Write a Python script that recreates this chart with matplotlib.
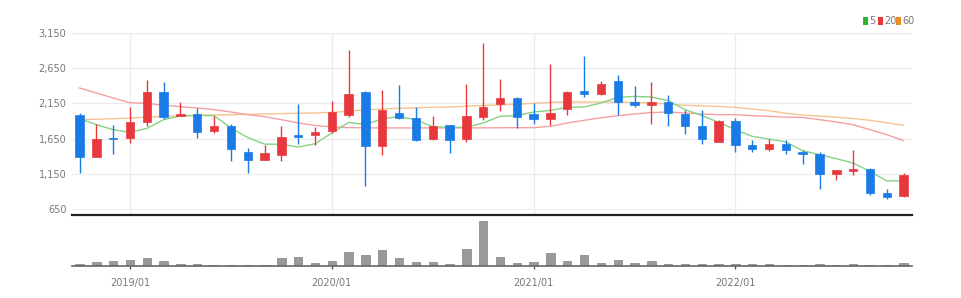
import matplotlib
matplotlib.use("Agg")
import matplotlib.pyplot as plt
from matplotlib.patches import Rectangle
from matplotlib.ticker import FuncFormatter

months = ["2018/10", "2018/11", "2018/12", "2019/01", "2019/02", "2019/03", "2019/04", "2019/05", "2019/06", "2019/07",
          "2019/08", "2019/09", "2019/10", "2019/11", "2019/12", "2020/01", "2020/02", "2020/03", "2020/04", "2020/05",
          "2020/06", "2020/07", "2020/08", "2020/09", "2020/10", "2020/11", "2020/12", "2021/01", "2021/02", "2021/03",
          "2021/04", "2021/05", "2021/06", "2021/07", "2021/08", "2021/09", "2021/10", "2021/11", "2021/12", "2022/01",
          "2022/02", "2022/03", "2022/04", "2022/05", "2022/06", "2022/07", "2022/08", "2022/09", "2022/10", "2022/11"]

opens = [1980, 1389, 1658, 1658, 1881, 2307, 1976, 2000, 1753, 1824,
         1460, 1346, 1422, 1696, 1696, 1753, 1990, 2312, 1540, 2009,
         1943, 1644, 1838, 1649, 1957, 2141, 2227, 2000, 1924, 2070,
         2331, 2283, 2463, 2170, 2132, 2170, 2000, 1824, 1602, 1905,
         1554, 1507, 1569, 1460, 1436, 1152, 1195, 1223, 877, 830]
closes = [1389, 1649, 1644, 1890, 2307, 1952, 2000, 1744, 1834, 1507,
          1346, 1441, 1668, 1677, 1744, 2028, 2283, 1550, 2061, 1943,
          1635, 1824, 1635, 1971, 2104, 2222, 1952, 1928, 2009, 2312,
          2283, 2426, 2165, 2132, 2170, 2009, 1834, 1644, 1905, 1554,
          1497, 1569, 1488, 1436, 1152, 1199, 1213, 877, 820, 1128]
highs = [2014, 1857, 1848, 2094, 2478, 2449, 2170, 2085, 1966, 1862,
         1517, 1554, 1824, 2141, 1810, 2179, 2909, 2331, 2336, 2407,
         2104, 1966, 1845, 2426, 3008, 2497, 2236, 2156, 2710, 2320,
         2828, 2463, 2558, 2392, 2449, 2265, 2061, 2061, 1919, 1943,
         1635, 1644, 1635, 1493, 1460, 1204, 1493, 1230, 934, 1161]
lows = [1161, 1389, 1431, 1587, 1834, 1933, 1966, 1658, 1730, 1327,
        1161, 1346, 1327, 1573, 1554, 1725, 1952, 977, 1412, 1933,
        1611, 1635, 1446, 1597, 1919, 2047, 1801, 1862, 1838, 1990,
        2241, 2274, 1980, 2094, 1862, 1824, 1720, 1578, 1597, 1460,
        1455, 1479, 1436, 1294, 934, 1067, 1128, 853, 797, 820]
volumes = [23, 37, 50, 63, 83, 53, 23, 23, 13, 13,
           13, 13, 77, 90, 27, 53, 137, 113, 163, 77,
           37, 43, 23, 173, 447, 95, 35, 37, 130, 53,
           107, 30, 57, 30, 53, 23, 17, 17, 17, 17,
           17, 17, 10, 10, 17, 10, 17, 10, 10, 30]
ma5 = [1933, 1848, 1777, 1739, 1795, 1919, 1971, 1980, 1976, 1800,
       1665, 1572, 1570, 1531, 1577, 1730, 1881, 1848, 1933, 1962,
       1919, 1817, 1810, 1810, 1872, 1966, 1976, 2028, 2050, 2094,
       2099, 2156, 2236, 2250, 2241, 2189, 2061, 1980, 1881, 1777,
       1682, 1644, 1602, 1479, 1422, 1365, 1303, 1185, 1050, 1050]
ma20 = [2369, 2298, 2227, 2160, 2151, 2123, 2104, 2085, 2061, 2028,
        1990, 1962, 1919, 1872, 1838, 1815, 1806, 1803, 1802, 1802,
        1802, 1802, 1802, 1802, 1803, 1804, 1805, 1806, 1825, 1872,
        1910, 1945, 1975, 2000, 2020, 2028, 2014, 2000, 1990, 1990,
        1976, 1966, 1955, 1950, 1919, 1886, 1848, 1777, 1706, 1621]
ma60 = [1919, 1925, 1933, 1943, 1955, 1965, 1975, 1980, 1985, 1990,
        1995, 2000, 2005, 2010, 2014, 2023, 2040, 2058, 2071, 2080,
        2088, 2095, 2099, 2110, 2120, 2130, 2140, 2150, 2165, 2170,
        2170, 2170, 2170, 2165, 2156, 2141, 2123, 2115, 2108, 2094,
        2070, 2047, 2009, 1985, 1970, 1955, 1935, 1910, 1875, 1838]
price_ticks = [650, 1150, 1650, 2150, 2650, 3150]
year_ticks = ["2019/01", "2020/01", "2021/01", "2022/01"]
legend_labels = ["5", "20", "60"]

UP = "#e8383d"
DOWN = "#1a7ae6"
MA_COLORS = ["#86d283", "#f5a0a0", "#f7c28e"]
LEG_COLORS = ["#2bb52b", "#e83535", "#f08a2a"]
TXT = "#777777"
FONT = ["Liberation Sans Narrow", "DejaVu Sans"]
plt.rcParams["font.family"] = FONT

W, H = 961, 298
fig = plt.figure(figsize=(W / 100, H / 100), dpi=100)
fig.patch.set_facecolor("white")

left = 72 / W
width = (912 - 72) / W
ax = fig.add_axes([left, 1 - 215 / H, width, (215 - 33) / H])
axv = fig.add_axes([left, 1 - 266 / H, width, (266 - 215) / H])

x = list(range(len(months)))
xt = [months.index(m) for m in year_ticks]

# grid
for p in price_ticks:
    ax.axhline(p, color="#ececec", lw=0.9, zorder=0)
for t in xt:
    ax.axvline(t, color="#ececec", lw=0.9, zorder=0)

# moving averages
for s, c in zip([ma60, ma20, ma5], [MA_COLORS[2], MA_COLORS[1], MA_COLORS[0]]):
    ax.plot(x, s, color=c, lw=1.0, zorder=2)

bw = 0.5
for i in x:
    o, c, h, l = opens[i], closes[i], highs[i], lows[i]
    col = UP if c >= o else DOWN
    ax.vlines(i, l, h, color=col, lw=1.0, zorder=3)
    b = min(o, c)
    hh = max(abs(c - o), 12)
    ax.add_patch(Rectangle((i - bw / 2, b), bw, hh, facecolor=col, edgecolor=col, lw=0.5, zorder=4))

ax.set_xlim(-0.45, 49.5)
ax.set_ylim(565, 3150)
ax.set_yticks(price_ticks)
ax.yaxis.set_major_formatter(FuncFormatter(lambda v, p: f"{int(v):,}"))
ax.tick_params(axis="y", length=0, pad=4, labelsize=7, labelcolor=TXT)
ax.set_xticks([])
for sp in ["top", "right", "left"]:
    ax.spines[sp].set_visible(False)
ax.spines["bottom"].set_color("#222222")
ax.spines["bottom"].set_linewidth(1.6)

# volume
axv.bar(x, volumes, width=0.5, color="#9a9a9a", edgecolor="#808080", lw=0.5, zorder=2)
axv.set_xlim(-0.45, 49.5)
axv.set_ylim(0, 510)
axv.set_yticks([])
axv.set_xticks(xt)
axv.set_xticklabels(year_ticks)
axv.tick_params(axis="x", length=2.5, width=1, color="#555555", pad=6, labelsize=7, labelcolor=TXT)
for sp in ["top", "right", "left"]:
    axv.spines[sp].set_visible(False)
axv.spines["bottom"].set_color("#666666")
axv.spines["bottom"].set_linewidth(1.2)
axv.set_facecolor("none")
ax.set_facecolor("none")

# legend
ly = 1 - 21 / H
sq_x = [863, 878, 896]
for xp, lab, c in zip(sq_x, legend_labels, LEG_COLORS):
    fig.patches.append(Rectangle((xp / W, ly - 3.5 / H), 4.5 / W, 7.5 / H, transform=fig.transFigure,
                                 facecolor=c, edgecolor="none"))
    fig.text((xp + 6) / W, ly, lab, fontsize=7, color=TXT, va="center", ha="left")

fig.savefig("out.png", dpi=100, facecolor="white")
